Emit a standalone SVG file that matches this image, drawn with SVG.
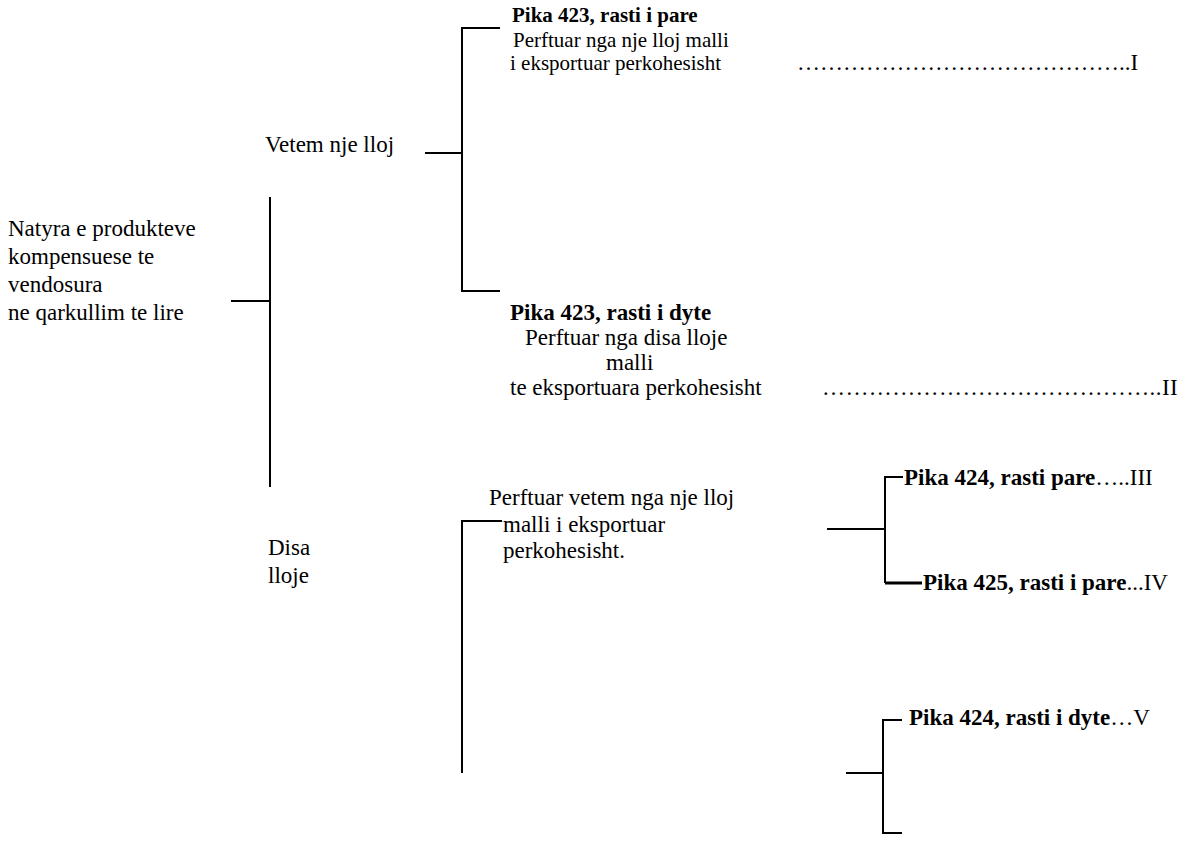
<svg xmlns="http://www.w3.org/2000/svg" width="1189" height="845" viewBox="0 0 1189 845">
<style>
text{font-family:"Liberation Serif","Times New Roman",serif;font-size:23px;fill:#000}
.s{font-size:21px}
.b{font-weight:bold}
.n{font-weight:normal}
.c{stroke:#000;stroke-width:2;fill:none}
</style>
<rect width="1189" height="845" fill="#fff"/>
<g id="connectors">
<path class="c" d="M231 301H270M270 197V487"/>
<path class="c" d="M425 153H462M500 28H462V291H500"/>
<path class="c" d="M502 521H462V773"/>
<path class="c" d="M827 529H885M903 477H885V583"/>
<path d="M885 583H922" stroke="#000" stroke-width="3"/>
<path class="c" d="M846 773H883M902 720H883V833H902"/>
</g>
<g id="root">
<text x="8" y="236">Natyra e produkteve</text>
<text x="8" y="264">kompensuese te</text>
<text x="8" y="292">vendosura</text>
<text x="8" y="320">ne qarkullim te lire</text>
</g>
<g id="vetem">
<text x="265" y="152">Vetem nje lloj</text>
</g>
<g id="disa">
<text x="268" y="555">Disa</text>
<text x="268" y="583">lloje</text>
</g>
<g id="case-I">
<text class="s b" x="512" y="22">Pika 423, rasti i pare</text>
<text class="s" x="513" y="47">Perftuar nga nje lloj malli</text>
<text class="s" x="510" y="70">i eksportuar perkohesisht</text>
<text x="797" y="70">&#8230;&#8230;&#8230;&#8230;&#8230;&#8230;&#8230;&#8230;&#8230;&#8230;&#8230;&#8230;&#8230;&#8230;..I</text>
</g>
<g id="case-II">
<text class="b" x="510" y="320">Pika 423, rasti i dyte</text>
<text x="525" y="345">Perftuar nga disa lloje</text>
<text x="606" y="370">malli</text>
<text x="510" y="395">te eksportuara perkohesisht</text>
<text x="822" y="395" letter-spacing="0.4">&#8230;&#8230;&#8230;&#8230;&#8230;&#8230;&#8230;&#8230;&#8230;&#8230;&#8230;&#8230;&#8230;&#8230;..II</text>
</g>
<g id="vetem-nje">
<text x="489" y="505">Perftuar vetem nga nje lloj</text>
<text x="503" y="532">malli i eksportuar</text>
<text x="503" y="558">perkohesisht.</text>
</g>
<g id="case-III">
<text class="b" x="904" y="485">Pika 424, rasti pare<tspan class="n">&#8230;..III</tspan></text>
</g>
<g id="case-IV">
<text class="b" x="923" y="590">Pika 425, rasti i pare<tspan class="n">...IV</tspan></text>
</g>
<g id="case-V">
<text class="b" x="909" y="725">Pika 424, rasti i dyte<tspan class="n">&#8230;V</tspan></text>
</g>
</svg>
